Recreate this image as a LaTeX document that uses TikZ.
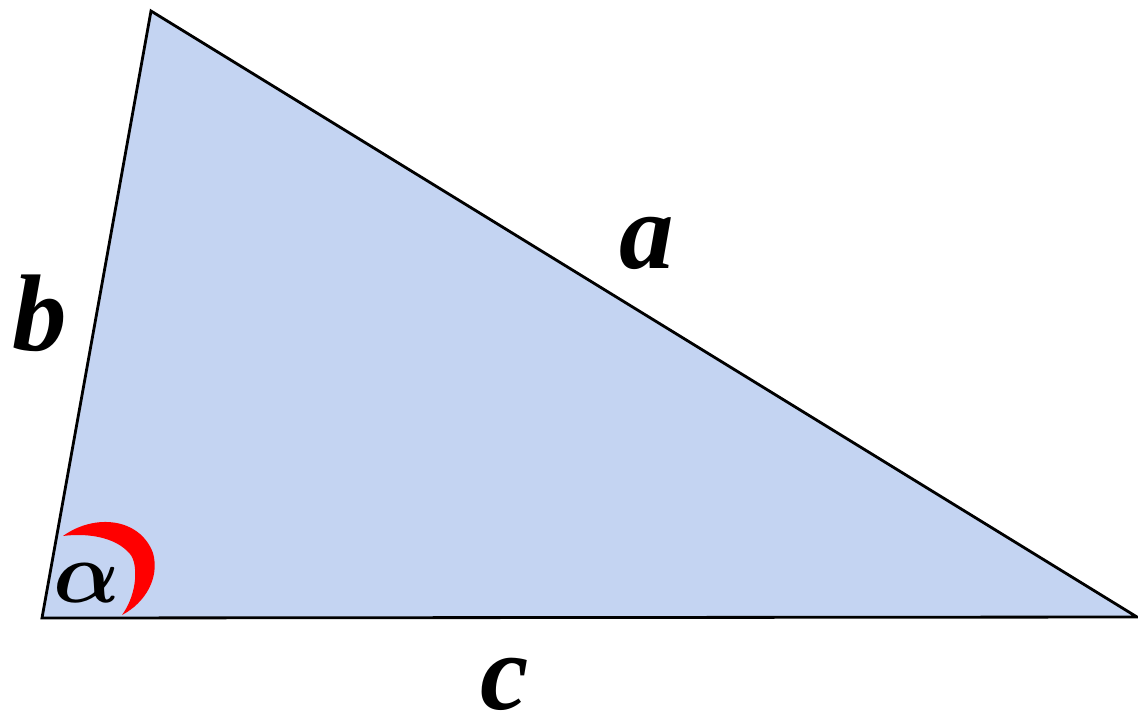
\documentclass[tikz,border=0pt]{standalone}
\usepackage{fontspec}
\setmainfont{Liberation Serif}[BoldItalicFont={Liberation Serif Bold Italic},ItalicFont={Liberation Serif Italic}]
\usetikzlibrary{positioning}
\definecolor{paper}{RGB}{196,212,242}
\definecolor{crescent}{RGB}{255,0,0}

\begin{document}
\begin{tikzpicture}[side/.style={font=\fontsize{31}{36}\selectfont\bfseries\itshape,inner sep=0pt},ang/.style={font=\fontsize{32}{36}\selectfont\boldmath,inner sep=0pt}]
    \useasboundingbox (0,0) rectangle (11.38,7.18);
    \coordinate (A) at (0.42,1.00); \coordinate (B) at (1.51,7.07); \coordinate (C) at (11.37,1.01);
    \fill[paper] (A) -- (B) -- (C) -- cycle;
    \draw[line width=0.8pt,line join=miter] (A) -- (B) -- (C) -- cycle;
    % angle mark at A
    \fill[crescent] (0.63,1.82) .. controls (0.95,2.05) and (1.40,2.00) .. (1.53,1.65) .. controls (1.60,1.40) and (1.45,1.15) .. (1.22,1.03) .. controls (1.38,1.25) and (1.38,1.55) .. (1.30,1.64) .. controls (1.15,1.82) and (0.85,1.85) .. (0.63,1.82) -- cycle;
    \node[side] (la) at (6.47,4.75) {a};
    \node[side] (lb) at (0.40,4.05) {b};
    \node[side] (lc) at (5.05,0.34) {c};
    \node[ang] (alpha) at (0.87,1.35) {$\alpha$};
  \end{tikzpicture}
\end{document}
